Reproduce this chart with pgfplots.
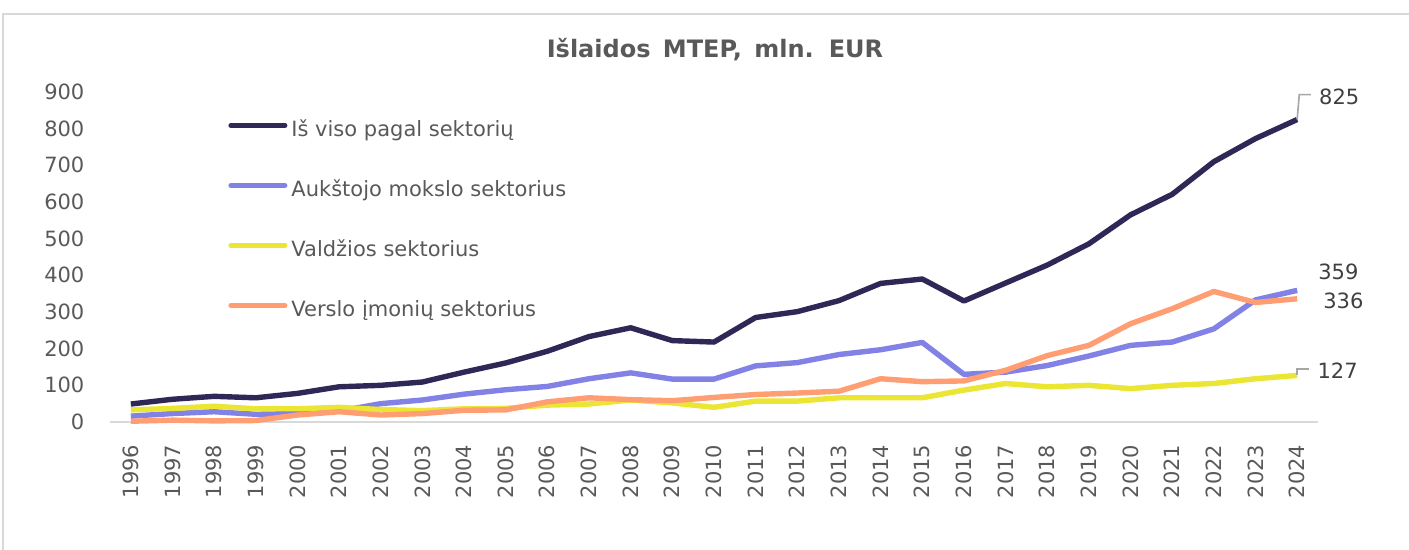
\documentclass[border=0pt]{standalone}
\usepackage{fontspec}
\setmainfont{DejaVu Sans}
\usepackage{pgfplots}
\usepackage{pgfplotstable}
\pgfplotsset{compat=1.18}
\definecolor{cTot}{HTML}{2E2856}
\definecolor{cHigh}{HTML}{8282E6}
\definecolor{cGov}{HTML}{EBE533}
\definecolor{cBus}{HTML}{FF9E73}
\definecolor{cText}{HTML}{595959}
\definecolor{cLab}{HTML}{404040}
\definecolor{cFrame}{HTML}{D9D9D9}
\definecolor{cLead}{HTML}{A6A6A6}
\pgfplotstableread{
year tot high gov bus
1996 49 16 33 2
1997 62 23 37 5
1998 70 28 43 3
1999 66 21 36 4
2000 78 23 36 19
2001 96 30 40 28
2002 100 50 34 19
2003 109 60 31 23
2004 136 76 36 32
2005 161 88 37 33
2006 193 97 46 55
2007 233 118 49 66
2008 257 134 60 61
2009 222 117 52 58
2010 218 117 40 67
2011 285 153 57 75
2012 301 162 57 79
2013 331 184 66 84
2014 378 197 66 118
2015 390 217 66 110
2016 330 130 87 112
2017 379 136 105 141
2018 428 154 96 181
2019 486 180 100 209
2020 565 209 91 268
2021 621 218 100 309
2022 710 254 105 356
2023 773 333 118 326
2024 825 359 127 336
}\datatable
\begin{document}
\begin{tikzpicture}[x=0.5pt,y=0.5pt]
\useasboundingbox (0,0) rectangle (1409,550);
\draw[color=cFrame, line width=1pt] (3,0) -- (3,536) -- (1409,536);
\node[font=\bfseries\fontsize{12}{14}\selectfont, text=cText] at (715,500) {Išlaidos\hspace{2pt} MTEP,\hspace{2pt} mln.\hspace{2pt} EUR};
\begin{axis}[
  at={(55pt,64pt)}, anchor=south west,
  scale only axis, width=604pt, height=165pt,
  xmin=1995.5, xmax=2024.5, ymin=0, ymax=900,
  axis lines=left,
  x axis line style={draw=cFrame, line width=1pt, -},
  y axis line style={draw=none},
  tick style={draw=none},
  xtick={1996,...,2024}, ytick={0,100,...,900},
  /pgf/number format/assume math mode=true,
  /pgf/number format/1000 sep={},
  tick label style={font=\fontsize{10.5}{12}\selectfont, text=cText},
  xticklabel style={rotate=90, anchor=east, inner xsep=9pt, inner ysep=0pt},
  yticklabel style={anchor=east, inner xsep=0pt, xshift=-10.5pt},
  clip=false,
  legend cell align=left,
  legend style={at={(0.0977,0.912)}, anchor=north west, draw=none, fill=none,
    inner sep=0pt, row sep=20pt, column sep=2pt,
    font=\fontsize{10.5}{12}\selectfont, text=cText,
    nodes={inner sep=0pt, text height=7.5pt, text depth=2.5pt}},
  legend image code/.code={\draw[#1, line width=2.5pt, line cap=round] (0pt,3pt) -- (27pt,3pt);},
  every axis plot/.append style={line width=2.7pt, line join=round, no marks},
]
\addplot[color=cTot] table[x=year, y=tot] {\datatable};
\addlegendentry{Iš viso pagal sektorių}
\addplot[color=cHigh] table[x=year, y=high] {\datatable};
\addlegendentry{Aukštojo mokslo sektorius}
\addplot[color=cGov] table[x=year, y=gov] {\datatable};
\addlegendentry{Valdžios sektorius}
\addplot[color=cBus] table[x=year, y=bus] {\datatable};
\addlegendentry{Verslo įmonių sektorius}
\draw[cLead, line width=0.8pt] (axis cs:2024,825) -- (axis cs:2024.05,893) -- (axis cs:2024.33,893);
\draw[cLead, line width=0.8pt] (axis cs:2024,127) -- (axis cs:2024,145) -- (axis cs:2024.29,145);
\node[font=\fontsize{10.5}{12}\selectfont, text=cLab] at (axis cs:2025.01,887) {825};
\node[font=\fontsize{10.5}{12}\selectfont, text=cLab] at (axis cs:2024.99,409) {359};
\node[font=\fontsize{10.5}{12}\selectfont, text=cLab] at (axis cs:2025.11,330) {336};
\node[font=\fontsize{10.5}{12}\selectfont, text=cLab] at (axis cs:2024.97,139) {127};
\end{axis}
\end{tikzpicture}
\end{document}
